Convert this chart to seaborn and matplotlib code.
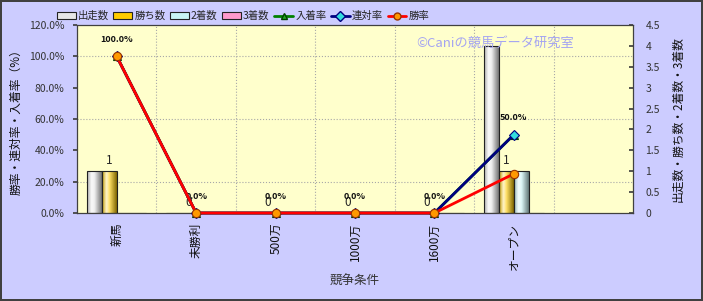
import numpy as np
import pandas as pd
import matplotlib
matplotlib.use('Agg')
import matplotlib.pyplot as plt
import seaborn as sns
from matplotlib.patches import Patch
from matplotlib.lines import Line2D
from matplotlib.colors import to_rgb

# ---- data ----
categories = ['新馬', '未勝利', '500万', '1000万', '1600万', 'オープン', '']
starts = [1, 0, 0, 0, 0, 4]
wins = [1, 0, 0, 0, 0, 1]
seconds = [0, 0, 0, 0, 0, 1]
thirds = [0, 0, 0, 0, 0, 0]
place_rate = [100.0, 0.0, 0.0, 0.0, 0.0, 50.0]
rentai_rate = [100.0, 0.0, 0.0, 0.0, 0.0, 50.0]
win_rate = [100.0, 0.0, 0.0, 0.0, 0.0, 25.0]
bar_series = ['出走数', '勝ち数', '2着数', '3着数']
line_series = ['入着率', '連対率', '勝率']
left_ticks = [0, 20, 40, 60, 80, 100, 120]
right_ticks = [0, 0.5, 1, 1.5, 2, 2.5, 3, 3.5, 4, 4.5]

bar_colors = ['#E6E6E6', '#FFCC00', '#C8F4F4', '#FF99CC']

sns.set_theme(style='white')
plt.rcParams['font.family'] = ['Noto Sans CJK JP', 'DejaVu Sans']

fig = plt.figure(figsize=(7.03, 3.01), dpi=100, facecolor='#CCCCFF',
                 edgecolor='#404040', linewidth=1.5)
ax = fig.add_axes([77/703, 1-213/301, 556/703, 188/301])
ax.set_facecolor('#FFFFCC')

n = len(starts)
df = pd.DataFrame({
    '条件': categories[:n] * 4,
    '系列': np.repeat(bar_series, n),
    '値': starts + wins + seconds + thirds,
})
sns.barplot(data=df, x='条件', y='値', hue='系列', order=categories,
            hue_order=bar_series, palette=bar_colors, width=0.75,
            edgecolor='#222222', linewidth=0.8, errorbar=None, legend=False,
            ax=ax, zorder=2)

ax.set_xlim(-0.5, len(categories) - 0.5)
ax.set_ylim(right_ticks[0], right_ticks[-1])

# cylinder-like horizontal gradient on each bar
def shade(c, f):
    c = np.array(to_rgb(c))
    return np.clip(c * f, 0, 1)

def lighten(c, f):
    c = np.array(to_rgb(c))
    return c + (1 - c) * f

for cont, col in zip(ax.containers, bar_colors):
    stops = np.array([0.0, 0.3, 0.5, 1.0])
    cols = np.array([shade(col, 0.75), lighten(col, 0.8), lighten(col, 0.4),
                     shade(col, 0.5)])
    xs = np.linspace(0, 1, 64)
    grad = np.stack([np.interp(xs, stops, cols[:, k]) for k in range(3)], axis=-1)[None, :, :]
    for p in cont.patches:
        h = p.get_height()
        if not np.isfinite(h) or h <= 0:
            continue
        x0, w = p.get_x(), p.get_width()
        im = ax.imshow(grad, extent=(x0, x0 + w, 0, h), aspect='auto',
                       zorder=2.5, interpolation='bilinear')
        im.set_clip_path(p)
        p.set_facecolor('none')
        p.set_zorder(3)
ax.set_xlim(-0.5, len(categories) - 0.5)
ax.set_ylim(right_ticks[0], right_ticks[-1])

# gridlines: horizontal at left-axis ticks, vertical at category boundaries
ax.set_yticks(np.array(left_ticks[1:-1]) / left_ticks[-1] * right_ticks[-1], minor=True)
ax.set_xticks(np.arange(len(categories) - 1) + 0.5, minor=True)
ax.grid(which='minor', color='#A8A8A8', linestyle=':', linewidth=0.8)
ax.grid(which='major', visible=False)
ax.tick_params(which='minor', length=0)
ax.set_axisbelow(True)

ax.set_xticks(range(len(categories)))
ax.set_xticklabels(categories, rotation=90, fontsize=8.5, color='#111111')
ax.tick_params(axis='x', length=0, pad=7)
ax.set_xlabel('競争条件', fontsize=9, color='#333333', labelpad=4)

for s in ax.spines.values():
    s.set_color('#404040')
    s.set_linewidth(0.9)

# labels for 勝ち数
win_container = ax.containers[1]
ax.bar_label(win_container, labels=[f'{v:g}' for v in wins], padding=3, fontsize=8.5)

# ---- lines on percentage axis ----
ax2 = ax.twinx()
ax2.set_ylim(left_ticks[0], left_ticks[-1])
ax2.set_yticks(left_ticks)
ax2.set_yticklabels([f'{v:.1f}%' for v in left_ticks], fontsize=7.5, color='#333333')
ax2.yaxis.tick_left()
ax2.yaxis.set_label_position('left')
ax2.set_ylabel('勝率・連対率・入着率（%）', fontsize=8.5, color='#111111', labelpad=5)
ax2.tick_params(axis='y', direction='out', length=3, color='#404040', pad=6)
for s in ax2.spines.values():
    s.set_visible(False)

# right axis (counts) after twinx
ax.yaxis.tick_right()
ax.yaxis.set_label_position('right')
ax.set_yticks(right_ticks)
ax.set_yticklabels([f'{v:g}' for v in right_ticks], fontsize=7.5, color='#333333')
ax.set_ylabel('出走数・勝ち数・2着数・3着数', fontsize=8.5, color='#111111',
              labelpad=8, rotation=90)
ax.tick_params(axis='y', direction='in', length=3, color='#404040', pad=9)

idx = np.arange(n)
line_specs = [
    (place_rate, '#008000', '^', '#22AA22', '#004000'),
    (rentai_rate, '#000080', 'D', '#33DDDD', '#000080'),
    (win_rate, '#FF0000', 'o', '#FF9900', '#993300'),
]
for vals, col, mk, mfc, mec in line_specs:
    sns.lineplot(x=idx, y=vals, color=col, linewidth=2, marker=mk,
                 markersize=6 if mk != 'D' else 5, markerfacecolor=mfc,
                 markeredgecolor=mec, markeredgewidth=0.8, sort=False,
                 ax=ax2, clip_on=False, zorder=5)
ax2.set_xlim(-0.5, len(categories) - 0.5)
ax2.set_ylim(left_ticks[0], left_ticks[-1])

for i, v in enumerate(rentai_rate):
    ax2.annotate(f'{v:.1f}%', (i, v), xytext=(0, 12), textcoords='offset points',
                 ha='center', va='center', fontsize=6.5, fontweight='bold',
                 color='#111111')

ax2.text(0.752, 0.9, '©Caniの競馬データ研究室', transform=ax2.transAxes,
         ha='center', va='center', fontsize=9.5, color='#A4A4F2')

# ---- legend ----
handles = [Patch(facecolor=c, edgecolor='#222222', linewidth=0.8) for c in bar_colors]
for vals, col, mk, mfc, mec in line_specs:
    handles.append(Line2D([], [], color=col, linewidth=2, marker=mk,
                          markersize=5, markerfacecolor=mfc, markeredgecolor=mec))
fig.legend(handles, bar_series + line_series, loc='center',
           bbox_to_anchor=(243/703, 1-16/301), ncol=7, frameon=False,
           fontsize=7.5, handlelength=1.8, handleheight=0.6, columnspacing=0.45,
           handletextpad=0.2, borderaxespad=0)

fig.savefig('out.png', dpi=100, facecolor=fig.get_facecolor(),
            edgecolor=fig.get_edgecolor())
